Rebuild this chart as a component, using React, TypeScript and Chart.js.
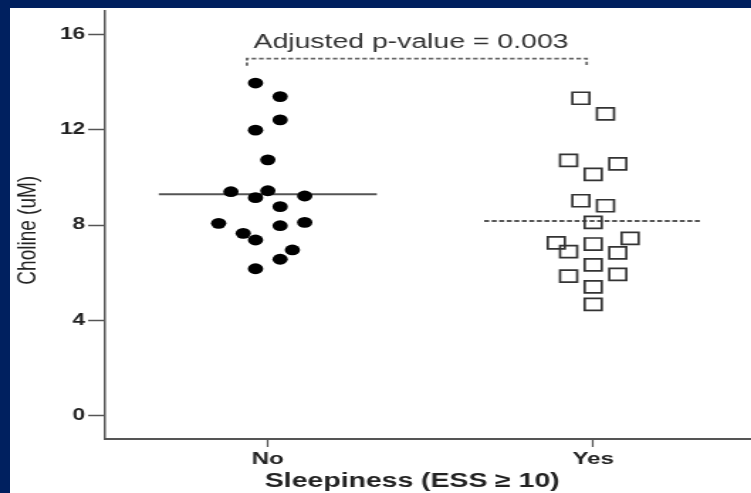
import React, { useEffect, useRef } from 'react';
import { Chart, registerables } from 'chart.js';

Chart.register(...registerables);

// ---- data ----
const categories = ['No', 'Yes'];
const noValues = [13.97, 13.4, 12.42, 11.99, 10.74, 9.4, 9.15, 9.44, 9.22, 8.77, 8.07, 7.97, 8.11, 7.65, 7.37, 6.95, 6.56, 6.16];
const noJitter = [-1, 1, 1, -1, 0, -3, -1, 0, 3, 1, -4, 1, 3, -2, -1, 2, 1, -1];
const yesValues = [13.33, 12.67, 10.72, 10.13, 10.57, 9.02, 8.81, 8.11, 7.25, 6.88, 7.2, 7.44, 6.83, 6.32, 5.85, 5.92, 5.4, 4.66];
const yesJitter = [-1, 1, -2, 0, 2, -1, 1, 0, -3, -2, 0, 3, 2, 0, -2, 2, 0, 0];
const yTicks = [0, 4, 8, 12, 16];
const pValueLabel = 'Adjusted p-value = 0.003';
const yTitle = 'Choline (uM)';
const xTitle = 'Sleepiness (ESS \u2265 10)';

// ---- layout constants ----
const JITTER_STEP = 0.0378;
const MEAN_HALF = 0.335;
const BRACKET_LEFT = 0.936;
const BRACKET_RIGHT = 1.98;
const BRACKET_Y = 15;
const BRACKET_DROP = 0.3;
const PVAL_X = 1.44;
const PVAL_Y = 15.45;

const STRETCH = 1.4195;
const PANEL_W = 741;
const PANEL_H = 485;
const CANVAS_W = Math.round(PANEL_W / STRETCH);

const FONT = '"Liberation Sans", Arial, Helvetica, sans-serif';

const mean = (a: number[]) => a.reduce((s, v) => s + v, 0) / a.length;

const pValuePlugin = {
  id: 'pValueText',
  afterDatasetsDraw(chart: any) {
    const { ctx, scales } = chart;
    const x = scales.x;
    const y = scales.y;
    ctx.save();
    ctx.font = `20px ${FONT}`;
    ctx.fillStyle = '#333';
    ctx.textAlign = 'center';
    ctx.textBaseline = 'alphabetic';
    ctx.fillText(pValueLabel, x.getPixelForValue(PVAL_X), y.getPixelForValue(PVAL_Y));
    ctx.restore();
  },
};

export default function App() {
  const ref = useRef<HTMLCanvasElement | null>(null);

  useEffect(() => {
    if (!ref.current) return;
    const noMean = mean(noValues);
    const yesMean = mean(yesValues);
    const chart = new Chart(ref.current, {
      type: 'scatter',
      data: {
        datasets: [
          {
            label: categories[0],
            data: noValues.map((v, i) => ({ x: 1 + noJitter[i] * JITTER_STEP, y: v })),
            pointStyle: 'circle',
            pointRadius: 5.4,
            backgroundColor: '#000',
            borderWidth: 0,
            order: 0,
          },
          {
            label: categories[1],
            data: yesValues.map((v, i) => ({ x: 2 + yesJitter[i] * JITTER_STEP, y: v })),
            pointStyle: 'rect',
            pointRadius: 8.5,
            backgroundColor: 'transparent',
            borderColor: '#333',
            borderWidth: 1.7,
            order: 0,
          },
          {
            label: 'No mean',
            data: [
              { x: 1 - MEAN_HALF, y: noMean },
              { x: 1 + MEAN_HALF, y: noMean },
            ],
            showLine: true,
            borderColor: '#555',
            borderWidth: 2,
            pointRadius: 0,
            order: 1,
          },
          {
            label: 'Yes mean',
            data: [
              { x: 2 - MEAN_HALF, y: yesMean },
              { x: 2 + MEAN_HALF, y: yesMean },
            ],
            showLine: true,
            borderColor: '#555',
            borderWidth: 2,
            borderDash: [3.5, 1.8],
            pointRadius: 0,
            order: 1,
          },
          {
            label: 'bracket',
            data: [
              { x: BRACKET_LEFT, y: BRACKET_Y - BRACKET_DROP },
              { x: BRACKET_LEFT, y: BRACKET_Y },
              { x: BRACKET_RIGHT, y: BRACKET_Y },
              { x: BRACKET_RIGHT, y: BRACKET_Y - BRACKET_DROP },
            ],
            showLine: true,
            borderColor: '#666',
            borderWidth: 1.8,
            borderDash: [3.3, 1.9],
            pointRadius: 0,
            order: 1,
          },
        ],
      },
      options: {
        animation: false,
        responsive: false,
        devicePixelRatio: 1,
        layout: { autoPadding: false, padding: { top: 3, left: 0, right: 0, bottom: 0 } },
        plugins: {
          legend: { display: false },
          tooltip: { enabled: false },
        },
        scales: {
          x: {
            type: 'linear',
            min: 0.5,
            max: 2.485,
            position: 'bottom',
            afterBuildTicks: (s: any) => {
              s.ticks = categories.map((_, i) => ({ value: i + 1 }));
            },
            afterFit: (s: any) => {
              s.height = 54;
              s.paddingLeft = 0;
              s.paddingRight = 0;
            },
            ticks: {
              callback: (v: any) => categories[Math.round(v) - 1] ?? '',
              font: { family: FONT, size: 17, weight: 'bold' },
              color: '#222',
              padding: 2,
              autoSkip: false,
              maxRotation: 0,
            },
            grid: {
              display: true,
              drawOnChartArea: false,
              drawTicks: true,
              tickLength: 8,
              tickColor: '#555',
              tickWidth: 1.2,
            },
            border: { display: true, color: '#555', width: 2 },
            title: {
              display: true,
              text: xTitle + '    ',
              font: { family: FONT, size: 20, weight: 'bold' },
              color: '#222',
              padding: { top: 0, bottom: 0 },
            },
          },
          y: {
            type: 'linear',
            min: -1,
            max: 17,
            afterBuildTicks: (s: any) => {
              s.ticks = yTicks.map((v) => ({ value: v }));
            },
            afterFit: (s: any) => {
              s.width = 67;
              s.paddingTop = 0;
              s.paddingBottom = 0;
            },
            ticks: {
              font: { family: FONT, size: 16, weight: 'bold' },
              color: '#222',
              padding: 2,
            },
            grid: {
              display: true,
              drawOnChartArea: false,
              drawTicks: true,
              tickLength: 12,
              tickColor: '#555',
              tickWidth: 1.5,
            },
            border: { display: true, color: '#555', width: 1.5 },
            title: {
              display: true,
              text: yTitle + '  ',
              font: { family: FONT, size: 19 },
              color: '#222',
              padding: { top: 1, bottom: 0 },
            },
          },
        },
      } as any,
      plugins: [pValuePlugin],
    });
    return () => chart.destroy();
  }, []);

  return (
    <div
      style={{
        position: 'fixed',
        left: 0,
        top: 0,
        width: 751,
        height: 493,
        background: '#00205f',
        overflow: 'hidden',
      }}
    >
      <div
        style={{
          position: 'absolute',
          left: 10,
          top: 8,
          width: PANEL_W,
          height: PANEL_H,
          background: '#fff',
        }}
      >
        <canvas
          ref={ref}
          width={CANVAS_W}
          height={PANEL_H}
          style={{ width: PANEL_W + 'px', height: PANEL_H + 'px', display: 'block' }}
        />
      </div>
    </div>
  );
}
